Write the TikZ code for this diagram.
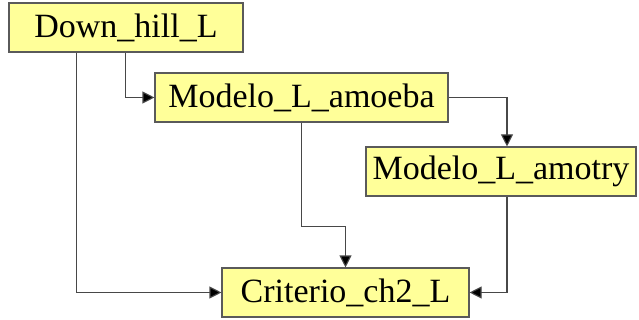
\documentclass[tikz,border=0pt]{standalone}
\usepackage{fontspec}
\setmainfont{Liberation Serif}
\usetikzlibrary{arrows.meta}
\definecolor{boxfill}{RGB}{255,255,153}
\definecolor{boxline}{RGB}{90,90,90}
\tikzset{
  module/.style={draw=boxline, fill=boxfill, line width=1.1pt, minimum height=49pt,
    inner sep=0pt, font=\fontsize{34}{37}\selectfont},
  link/.style={draw=boxline!80!black, line width=1.1pt,
    -{Triangle[length=12pt,width=12pt,fill=black]}}
}
\begin{document}
\begin{tikzpicture}[x=1pt,y=-1pt]
\useasboundingbox (0,0) rectangle (639,320);
\node[module, minimum width=234pt] (down) at (126,27.5) {Down\_hill\_L};
\node[module, minimum width=293pt] (amoeba) at (301.5,97.5) {Modelo\_L\_amoeba};
\node[module, minimum width=270pt] (amotry) at (501,171.5) {Modelo\_L\_amotry};
\node[module, minimum width=247pt] (crit) at (345.5,292.5) {Criterio\_ch2\_L};

\draw[link] ([xshift=117pt]down.south west) |- (amoeba.west);
\draw[link] ([xshift=68pt]down.south west) |- (crit.west);
\draw[link] (amoeba.east) -| ([xshift=6pt]amotry.north);
\draw[link] (amoeba.south) -- ++(0,104) -| (crit.north);
\draw[link] ([xshift=6pt]amotry.south) |- (crit.east);
\end{tikzpicture}
\end{document}
